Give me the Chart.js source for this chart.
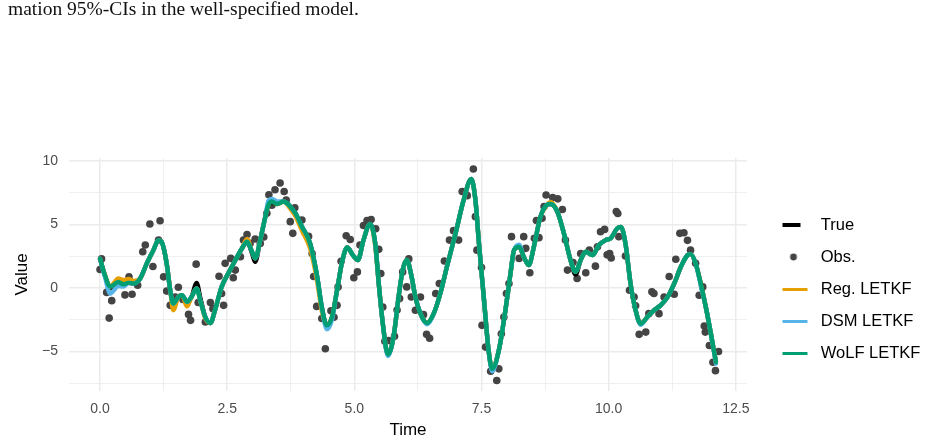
<!DOCTYPE html>
<html><head><meta charset="utf-8">
<script src="https://cdn.jsdelivr.net/npm/chart.js@4.4.1/dist/chart.umd.min.js"></script>
<style>html,body{margin:0;padding:0;background:#fff;}canvas{display:block;}</style>
</head><body>
<canvas id="c" width="928" height="442"></canvas>
<script>
const captionText = 'mation 95%-CIs in the well-specified model.';

const lineTime = [0.00,0.10,0.20,0.36,0.46,0.56,0.66,0.79,0.92,1.05,
 1.15,1.21,1.31,1.38,1.44,1.54,1.61,1.71,1.80,1.90,
 1.97,2.07,2.17,2.26,2.39,2.52,2.66,2.79,2.89,2.99,
 3.05,3.15,3.25,3.31,3.38,3.48,3.61,3.71,3.84,3.97,
 4.13,4.27,4.36,4.46,4.56,4.66,4.76,4.86,4.97,5.07,
 5.18,5.31,5.41,5.48,5.56,5.66,5.77,5.87,5.95,6.03,
 6.12,6.20,6.33,6.43,6.56,6.69,6.82,6.99,7.15,7.30,
 7.38,7.45,7.55,7.64,7.71,7.84,7.97,8.07,8.14,8.24,
 8.33,8.43,8.53,8.66,8.79,8.86,8.99,9.12,9.25,9.35,
 9.45,9.55,9.68,9.81,9.94,10.04,10.17,10.24,10.33,10.43,
 10.53,10.63,10.76,10.89,11.02,11.16,11.29,11.42,11.55,11.61,
 11.71,11.81,11.91,12.01,12.11];

const trueValue = [2.30,0.95,0.00,0.47,0.29,0.40,0.34,0.74,1.93,2.97,
 3.76,3.63,1.93,-0.18,-1.23,-0.70,-0.58,-1.10,-0.70,0.40,
 -0.75,-2.29,-2.76,-1.76,0.08,1.13,2.18,3.10,3.63,2.70,
 2.05,3.76,5.60,6.53,6.70,6.60,6.79,6.53,5.87,4.81,
 3.50,0.87,-1.50,-2.94,-2.29,-0.18,2.05,3.19,2.58,2.19,
 3.76,5.03,3.50,0.35,-2.81,-5.23,-3.87,-0.71,1.40,2.20,
 1.00,-0.71,-2.29,-2.76,-2.02,-0.44,1.66,4.29,6.92,8.56,
 6.92,3.50,-0.97,-4.92,-6.36,-4.92,-1.76,1.13,2.97,3.24,
 2.45,1.79,3.24,5.60,6.53,6.60,6.00,4.29,2.19,1.05,
 2.19,2.84,2.58,3.37,3.76,3.90,4.69,4.80,3.50,0.35,
 -1.76,-2.81,-2.29,-1.76,-1.37,-0.71,0.35,1.66,2.58,2.66,
 1.93,0.35,-1.50,-3.60,-5.84];

const regValue = [2.30,0.95,0.10,0.75,0.62,0.70,0.55,0.74,1.93,2.97,
 3.76,3.63,1.93,-0.18,-1.75,-0.70,-0.58,-1.45,-0.70,-0.05,
 -0.97,-2.40,-2.76,-1.76,0.08,1.13,2.18,3.10,3.85,2.84,
 2.32,3.76,5.60,6.53,6.79,6.60,6.79,6.40,5.65,4.50,
 3.10,0.50,-1.80,-2.94,-2.29,-0.18,2.05,3.19,2.58,2.19,
 3.76,5.03,3.30,0.35,-2.81,-5.23,-3.87,-0.71,1.40,2.20,
 1.00,-0.71,-2.29,-2.76,-2.02,-0.44,1.66,4.29,6.92,8.56,
 6.92,3.50,-0.97,-4.92,-6.36,-4.92,-1.76,1.13,2.97,3.24,
 2.45,1.79,3.24,5.60,6.53,6.75,6.00,4.29,2.19,1.26,
 2.19,2.84,2.58,3.37,3.76,3.90,4.69,4.80,3.50,0.35,
 -1.76,-2.81,-2.29,-1.76,-1.37,-0.71,0.35,1.66,2.58,2.66,
 1.93,0.35,-1.50,-3.60,-5.84];

const dsmValue = [2.30,0.80,-0.45,0.15,0.10,0.40,0.34,0.74,1.93,2.97,
 3.76,3.63,1.93,-0.18,-1.23,-0.70,-0.58,-1.10,-0.70,-0.05,
 -0.97,-2.29,-2.76,-1.76,0.08,1.13,2.18,3.10,3.63,2.84,
 2.32,3.76,5.60,6.85,7.00,6.80,6.79,6.53,5.87,4.81,
 3.50,0.87,-1.50,-3.25,-2.50,-0.18,2.05,3.19,2.58,2.19,
 3.76,5.03,3.50,0.35,-2.81,-5.35,-3.87,-0.71,1.40,2.20,
 1.00,-0.71,-2.29,-2.85,-2.02,-0.44,1.66,4.29,6.92,8.56,
 6.92,3.50,-0.97,-4.92,-6.55,-4.92,-1.76,1.13,2.97,3.40,
 2.45,1.79,3.24,5.60,6.53,6.60,6.00,4.29,2.19,1.26,
 2.19,2.84,2.58,3.37,3.76,3.90,4.69,4.80,3.50,0.35,
 -1.76,-2.90,-2.29,-1.76,-1.37,-0.71,0.35,1.66,2.58,2.66,
 1.93,0.20,-1.50,-3.60,-5.95];

const wolfValue = [2.30,0.95,0.10,0.47,0.29,0.40,0.34,0.74,1.93,2.97,
 3.76,3.63,1.93,-0.18,-1.23,-0.70,-0.58,-1.10,-0.70,-0.05,
 -0.97,-2.29,-2.76,-1.76,0.08,1.13,2.18,3.10,3.63,2.84,
 2.32,3.76,5.60,6.53,6.79,6.60,6.79,6.53,5.87,4.81,
 3.50,0.87,-1.50,-2.94,-2.29,-0.18,2.05,3.19,2.58,2.19,
 3.76,5.03,3.50,0.35,-2.81,-5.23,-3.87,-0.71,1.40,2.20,
 1.00,-0.71,-2.29,-2.76,-2.02,-0.44,1.66,4.29,6.92,8.56,
 6.92,3.50,-0.97,-4.92,-6.36,-4.92,-1.76,1.13,2.97,3.24,
 2.45,1.79,3.24,5.60,6.53,6.60,6.00,4.29,2.19,1.26,
 2.19,2.84,2.58,3.37,3.76,3.90,4.69,4.80,3.50,0.35,
 -1.76,-2.81,-2.29,-1.76,-1.37,-0.71,0.35,1.66,2.58,2.66,
 1.93,0.35,-1.50,-3.60,-5.84];

const obsTime = [0.00,0.03,0.13,0.18,0.23,0.36,0.49,0.57,0.63,0.74,
 0.84,0.89,0.98,1.04,1.15,1.18,1.25,1.31,1.38,1.48,
 1.54,1.63,1.74,1.78,1.89,1.93,2.07,2.17,2.22,2.34,
 2.39,2.43,2.46,2.57,2.62,2.66,2.76,2.82,2.89,2.95,
 3.05,3.15,3.22,3.28,3.32,3.38,3.44,3.54,3.62,3.66,
 3.74,3.79,3.83,3.97,4.10,4.17,4.20,4.26,4.36,4.43,
 4.54,4.60,4.66,4.68,4.74,4.84,4.92,4.99,5.06,5.11,
 5.18,5.25,5.33,5.42,5.48,5.52,5.56,5.60,5.67,5.79,
 5.84,5.89,5.95,6.03,6.07,6.12,6.20,6.30,6.36,6.42,
 6.48,6.60,6.67,6.77,6.87,6.95,7.05,7.12,7.22,7.34,
 7.38,7.41,7.50,7.51,7.58,7.68,7.80,7.84,7.89,7.94,
 7.99,8.04,8.09,8.24,8.33,8.37,8.45,8.54,8.58,8.63,
 8.69,8.73,8.77,8.90,9.00,9.09,9.15,9.19,9.30,9.38,
 9.45,9.55,9.62,9.74,9.78,9.84,9.92,9.97,10.02,10.05,
 10.15,10.18,10.20,10.33,10.41,10.50,10.53,10.60,10.73,10.79,
 10.85,10.89,10.99,11.09,11.19,11.29,11.32,11.40,11.48,11.55,
 11.61,11.71,11.78,11.85,11.88,11.90,11.98,12.05,12.10,12.16];

const obsValue = [1.45,2.28,-0.35,-2.37,-1.00,0.55,-0.55,0.87,-0.50,0.21,
 2.84,3.37,5.02,1.68,3.76,5.28,0.87,-0.25,-1.37,-0.71,
 0.05,-0.90,-2.08,-2.55,1.87,-1.15,-2.68,-1.15,-1.63,0.92,
 -0.44,-1.37,1.93,2.32,0.80,1.40,2.45,3.76,4.20,3.50,
 3.85,3.50,4.00,5.87,7.32,6.50,7.71,8.24,7.58,6.90,
 5.21,4.29,6.30,5.34,4.05,2.71,0.90,-1.45,-2.40,-4.78,
 -1.80,-2.30,-1.37,0.08,2.10,4.10,3.80,0.80,1.26,3.37,
 4.90,5.29,5.37,4.65,3.03,1.13,-1.50,-4.20,-4.13,-3.80,
 -1.74,-0.84,1.26,0.08,2.28,-0.71,-1.76,-0.71,-2.10,-3.65,
 -3.96,-0.44,0.35,2.12,3.76,4.50,3.76,7.58,7.25,9.35,
 5.60,2.97,1.60,-2.94,-4.65,-6.55,-7.28,-6.36,-3.60,-2.29,
 -0.44,0.35,4.03,2.32,4.03,3.11,1.19,3.90,5.30,3.95,
 5.48,6.40,7.30,7.10,7.00,6.16,3.76,1.40,2.00,0.74,
 2.71,1.19,2.97,1.71,3.24,4.42,4.60,2.60,2.71,2.35,
 6.00,5.85,4.03,2.50,-0.18,-0.71,-1.40,-3.65,-3.47,-2.02,
 -0.31,-0.44,-2.02,-0.71,0.90,-0.50,2.25,4.29,4.34,3.74,
 2.97,1.93,-0.58,0.08,-3.00,-3.47,-4.52,-5.84,-6.50,-5.00];

const seriesLabels = ['True', 'Obs.', 'Reg. LETKF', 'DSM LETKF', 'WoLF LETKF'];
const seriesColors = ['#000000', '#444444', '#E69F00', '#56B4E9', '#009E73'];

const xTickValues = [0, 2.5, 5, 7.5, 10, 12.5];
const xTickLabels = ['0.0', '2.5', '5.0', '7.5', '10.0', '12.5'];
const yTickValues = [-5, 0, 5, 10];
const yTickLabels = ['\u22125', '0', '5', '10'];

const pts = (xs, ys) => xs.map((x, i) => ({x: x, y: ys[i]}));
const findTick = (vals, v) => vals.findIndex(t => Math.abs(t - v) < 1e-6);

function keyImg(kind, color) {
  const c = document.createElement('canvas');
  c.width = 44; c.height = 10;
  const g = c.getContext('2d');
  g.fillStyle = color;
  if (kind === 'dot') { g.beginPath(); g.arc(28, 5, 3.4, 0, Math.PI * 2); g.fill(); }
  else if (kind === 'short') { g.fillRect(17, 3, 18, 4); }
  else { g.fillRect(17, 4, 25, 3); }
  return c;
}
const keyKinds = ['short', 'dot', 'line', 'line', 'line'];

const font = '"Liberation Sans", Arial, Helvetica, sans-serif';

const lineDs = (label, ys, color, order) => ({
  type: 'line', label: label, data: pts(lineTime, ys), borderColor: color, backgroundColor: color,
  borderWidth: 4.4, pointRadius: 0, pointHoverRadius: 0, cubicInterpolationMode: 'monotone',
  fill: false, order: order, borderJoinStyle: 'round', borderCapStyle: 'round'
});

const chart = new Chart(document.getElementById('c'), {
  type: 'scatter',
  data: {
    datasets: [
      lineDs(seriesLabels[0], trueValue, seriesColors[0], 3),
      {type: 'scatter', label: seriesLabels[1], data: pts(obsTime, obsValue), backgroundColor: seriesColors[1],
       borderWidth: 0, pointRadius: 3.8, pointHoverRadius: 3.8, order: 4},
      lineDs(seriesLabels[2], regValue, seriesColors[2], 2),
      lineDs(seriesLabels[3], dsmValue, seriesColors[3], 1),
      lineDs(seriesLabels[4], wolfValue, seriesColors[4], 0)
    ]
  },
  options: {
    responsive: false, animation: false, devicePixelRatio: 1,
    events: [],
    layout: {padding: {left: 8, right: 0, top: 0, bottom: 0}},
    plugins: {
      tooltip: {enabled: false},
      title: {
        display: true, text: captionText, align: 'start', color: '#111',
        font: {family: '"Liberation Serif", "Times New Roman", serif', size: 19.5, weight: 'normal', lineHeight: 1},
        padding: {top: 0, bottom: 138.5}
      },
      legend: {
        position: 'right', fullSize: false, maxWidth: 181, align: 'center',
        title: {display: true, text: ' ', font: {size: 10, lineHeight: 1}, padding: {top: 19, bottom: 0}},
        labels: {
          usePointStyle: true, pointStyleWidth: 50, padding: 15.5, color: '#000',
          font: {family: font, size: 16.5},
          generateLabels: () => seriesLabels.map((t, i) => ({
            text: t, pointStyle: keyImg(keyKinds[i], seriesColors[i]), datasetIndex: i,
            hidden: false, lineWidth: 1, strokeStyle: seriesColors[i], fillStyle: seriesColors[i], fontColor: '#000'
          }))
        }
      }
    },
    scales: {
      x: {
        type: 'linear', min: -0.61, max: 12.72,
        afterFit: s => { s.height = 51; },
        grid: {color: '#EBEBEB', drawTicks: false,
          lineWidth: c => (c.tick && findTick(xTickValues, c.tick.value) >= 0) ? 1.5 : 0.8},
        border: {display: false},
        ticks: {stepSize: 1.25, includeBounds: false, autoSkip: false, maxRotation: 0, minRotation: 0,
          padding: 9.5, color: '#4D4D4D', font: {family: font, size: 14},
          callback: v => { const i = findTick(xTickValues, v); return i >= 0 ? xTickLabels[i] : ''; }},
        title: {display: true, text: 'Time', color: '#000', font: {family: font, size: 17, lineHeight: 1.2},
          padding: {top: 0, bottom: 1.8}}
      },
      y: {
        type: 'linear', min: -8.1, max: 10.21,
        afterFit: s => { s.width = 61; },
        grid: {color: '#EBEBEB', drawTicks: false,
          lineWidth: c => (c.tick && findTick(yTickValues, c.tick.value) >= 0) ? 1.5 : 0.8},
        border: {display: false},
        ticks: {stepSize: 2.5, includeBounds: false, autoSkip: false,
          padding: 11, color: '#4D4D4D', font: {family: font, size: 14},
          callback: v => { const i = findTick(yTickValues, v); return i >= 0 ? yTickLabels[i] : ''; }},
        title: {display: true, text: 'Value', color: '#000', font: {family: font, size: 17, lineHeight: 1.2},
          padding: {top: 3.8, bottom: 0}}
      }
    }
  }
});

const dx = 747 - chart.chartArea.right;
if (Math.abs(dx) > 0.5) {
  chart.options.layout.padding.right = Math.max(0, -dx);
  chart.update('none');
}
</script>
</body></html>
